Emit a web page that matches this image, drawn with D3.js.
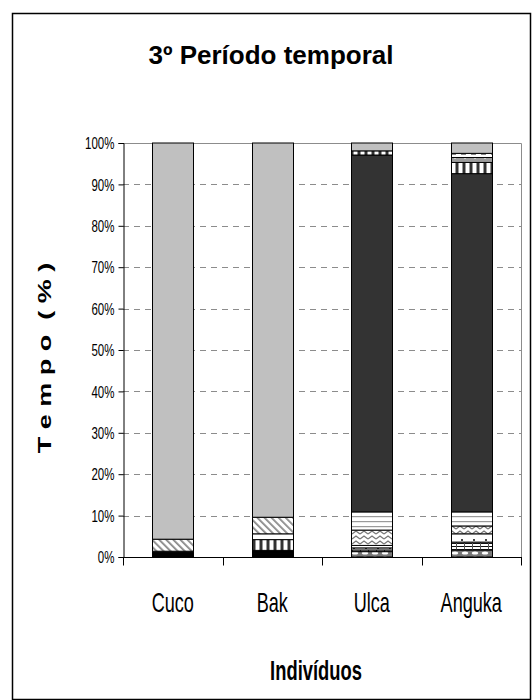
<!DOCTYPE html>
<html>
<head>
<meta charset="utf-8">
<script src="https://cdn.jsdelivr.net/npm/d3@7"></script>
<style>
  html, body { margin: 0; padding: 0; background: #fff; }
  svg { display: block; }
  text { font-family: Arial, "Liberation Sans", sans-serif; fill: #000; }
</style>
</head>
<body>
<svg id="chart" width="532" height="700"></svg>
<script>
// Individuals on the x axis
const categories = ["Cuco", "Bak", "Ulca", "Anguka"];

// Share of time (%) for each behaviour, one value per individual, stacked bottom to top
const s1  = [1.0, 0.8, 0.0, 0.0];    // solid black
const s2  = [0.4, 0.8, 0.0, 0.0];    // solid black (second band)
const s3  = [0.0, 0.0, 1.3, 1.7];    // wave
const s4  = [0.0, 0.0, 0.4, 1.9];    // grid
const s5  = [0.0, 0.0, 0.5, 2.0];    // dots
const s6  = [0.0, 2.6, 0.0, 0.0];    // vertical bars (low)
const s7  = [0.0, 1.4, 0.6, 0.0];    // plain white
const s8  = [0.0, 0.0, 3.7, 1.9];    // zigzag
const s9  = [0.0, 0.0, 4.4, 3.4];    // horizontal lines
const s10 = [2.9, 4.0, 0.0, 0.0];    // diagonal hatch
const s11 = [0.0, 0.0, 86.2, 81.7];  // dark grey
const s12 = [0.0, 0.0, 1.0, 2.7];    // vertical bars (high)
const s13 = [0.0, 0.0, 0.0, 1.2];    // grey with dots
const s14 = [0.0, 0.0, 0.0, 1.0];    // dashes
const s15 = [95.7, 90.4, 1.9, 2.5];  // light grey

const seriesKeys = ["s1","s2","s3","s4","s5","s6","s7","s8","s9","s10","s11","s12","s13","s14","s15"];
const seriesValues = [s1,s2,s3,s4,s5,s6,s7,s8,s9,s10,s11,s12,s13,s14,s15];

// Axis ticks
const tickValues = [0, 10, 20, 30, 40, 50, 60, 70, 80, 90, 100];
const tickLabels = ["0%","10%","20%","30%","40%","50%","60%","70%","80%","90%","100%"];

const chartTitle = "3º Período temporal";
const xTitle = "Indivíduos";
const yTitle = "T e m p o  ( % )";

// Rows for d3.stack
const rows = categories.map((c, i) => {
  const r = { cat: c };
  seriesKeys.forEach((k, j) => { r[k] = seriesValues[j][i]; });
  return r;
});

const svg = d3.select("#chart");
const defs = svg.append("defs");

// ---- fill patterns ----
function pat(id, w, h, draw, transform) {
  const p = defs.append("pattern").attr("id", id)
    .attr("patternUnits", "userSpaceOnUse").attr("width", w).attr("height", h);
  if (transform) p.attr("patternTransform", transform);
  p.append("rect").attr("width", w).attr("height", h).attr("fill", "#fff");
  draw(p);
}
pat("pWave", 10, 5, p => {
  p.append("rect").attr("width", 10).attr("height", 5).attr("fill", "#777");
  p.append("ellipse").attr("cx", 5).attr("cy", 3).attr("rx", 3.2).attr("ry", 1.6).attr("fill", "#fff");
});
pat("pGrid", 8, 3, p => {
  p.append("rect").attr("y", 0).attr("width", 8).attr("height", 1).attr("fill", "#111");
  p.append("rect").attr("x", 0).attr("width", 1).attr("height", 3).attr("fill", "#555");
});
pat("pDots", 12, 8, p => {
  p.append("rect").attr("x", 5).attr("y", 3).attr("width", 2).attr("height", 2).attr("fill", "#444");
});
pat("pVBar", 7, 7, p => {
  p.append("rect").attr("x", 0).attr("width", 1).attr("height", 7).attr("fill", "#999");
  p.append("rect").attr("x", 1).attr("width", 2).attr("height", 7).attr("fill", "#333");
  p.append("rect").attr("x", 3).attr("width", 1).attr("height", 7).attr("fill", "#999");
});
pat("pZig", 8, 5, p => {
  p.append("path").attr("d", "M0,4 L4,1 L8,4").attr("fill", "none")
    .attr("stroke", "#777").attr("stroke-width", 1.3);
});
pat("pHLine", 6, 5, p => {
  p.append("rect").attr("y", 1).attr("width", 6).attr("height", 1.2).attr("fill", "#9a9a9a");
});
pat("pHatch", 5, 5, p => {
  p.append("rect").attr("x", 0).attr("width", 1.8).attr("height", 5).attr("fill", "#8a8a8a");
}, "rotate(-45)");
pat("pGreyDot", 10, 5, p => {
  p.append("rect").attr("width", 10).attr("height", 5).attr("fill", "#9c9c9c");
  p.append("rect").attr("x", 4).attr("y", 2).attr("width", 2).attr("height", 1.5).attr("fill", "#fff");
});
pat("pDash", 10, 4, p => {
  p.append("rect").attr("x", 1).attr("y", 2).attr("width", 5).attr("height", 1).attr("fill", "#888");
});

const fills = {
  s1: "#000", s2: "#000", s3: "url(#pWave)", s4: "url(#pGrid)", s5: "url(#pDots)",
  s6: "url(#pVBar)", s7: "#fff", s8: "url(#pZig)", s9: "url(#pHLine)", s10: "url(#pHatch)",
  s11: "#333333", s12: "url(#pVBar)", s13: "url(#pGreyDot)", s14: "url(#pDash)", s15: "#c0c0c0"
};

// ---- outer frame ----
svg.append("rect").attr("x", 12.5).attr("y", 13.5).attr("width", 518).attr("height", 686)
  .attr("fill", "#fff").attr("stroke", "#000").attr("stroke-width", 1.5);

// ---- scales ----
const plotL = 123, plotR = 521, plotT = 143, plotB = 557;
const x = d3.scaleBand().domain(categories).range([plotL, plotR])
  .paddingInner(0.59).paddingOuter(0.295);
const y = d3.scaleLinear().domain([0, 100]).range([plotB, plotT]);

// ---- gridlines ----
const grid = svg.append("g");
grid.selectAll("line").data(tickValues.filter(v => v > 0 && v < 100)).join("line")
  .attr("x1", plotL).attr("x2", plotR)
  .attr("y1", d => Math.round(y(d)) + 0.5).attr("y2", d => Math.round(y(d)) + 0.5)
  .attr("stroke", "#8c8c8c").attr("stroke-dasharray", "6,5");
// plot area border (top and right)
svg.append("path")
  .attr("d", `M${plotL},${plotT + 0.5}H${plotR + 0.5}V${plotB}`)
  .attr("fill", "none").attr("stroke", "#8c8c8c").attr("stroke-width", 1);

// ---- stacked bars ----
const stacked = d3.stack().keys(seriesKeys)(rows);
const barG = svg.append("g");
stacked.forEach(layer => {
  barG.append("g").selectAll("rect")
    .data(layer.filter(d => d[1] - d[0] > 0))
    .join("rect")
    .attr("x", d => Math.round(x(d.data.cat)) + 0.5)
    .attr("width", Math.round(x.bandwidth()))
    .attr("y", d => y(d[1]))
    .attr("height", d => y(d[0]) - y(d[1]))
    .attr("fill", fills[layer.key])
    .attr("stroke", "#000").attr("stroke-width", 1);
});

// ---- axes ----
const yAxis = svg.append("g").attr("transform", `translate(${plotL + 0.5},0)`)
  .call(d3.axisLeft(y).tickValues(tickValues).tickFormat((d, i) => tickLabels[i]).tickSize(5));
yAxis.select(".domain").attr("stroke", "#000");
yAxis.selectAll(".tick line").attr("stroke", "#000");
yAxis.selectAll(".tick text")
  .attr("font-size", 16).attr("font-family", "Arial, 'Liberation Sans', sans-serif")
  .attr("x", -9 / 0.72).attr("dy", "0.36em")
  .attr("transform", "scale(0.72,1)");

const xAxis = svg.append("g").attr("transform", `translate(0,${plotB + 0.5})`);
xAxis.append("line").attr("x1", plotL).attr("x2", plotR + 1).attr("stroke", "#000");
const boundaries = d3.range(categories.length + 1).map(i => plotL + i * x.step());
xAxis.selectAll("line.tk").data(boundaries).join("line").attr("class", "tk")
  .attr("x1", d => Math.round(d) + 0.5).attr("x2", d => Math.round(d) + 0.5)
  .attr("y1", 0).attr("y2", 8).attr("stroke", "#000");

// category labels (narrow lettering)
svg.append("g").selectAll("g").data(categories).join("g")
  .attr("transform", d => `translate(${x(d) + x.bandwidth() / 2},612) scale(0.67,1)`)
  .append("text").attr("text-anchor", "middle").attr("font-size", 27).text(d => d);

// ---- titles ----
svg.append("text").attr("x", 271).attr("y", 64).attr("text-anchor", "middle")
  .attr("font-size", 26).attr("font-weight", "bold").text(chartTitle);

svg.append("g").attr("transform", "translate(316,680) scale(0.68,1)")
  .append("text").attr("text-anchor", "middle").attr("font-size", 27)
  .attr("font-weight", "bold").text(xTitle);

svg.append("g").attr("transform", "translate(51,358) rotate(-90) scale(1,0.68)")
  .append("text").attr("text-anchor", "middle").attr("font-size", 27)
  .attr("font-weight", "bold").attr("xml:space", "preserve").style("white-space", "pre").text(yTitle);
</script>
</body>
</html>
